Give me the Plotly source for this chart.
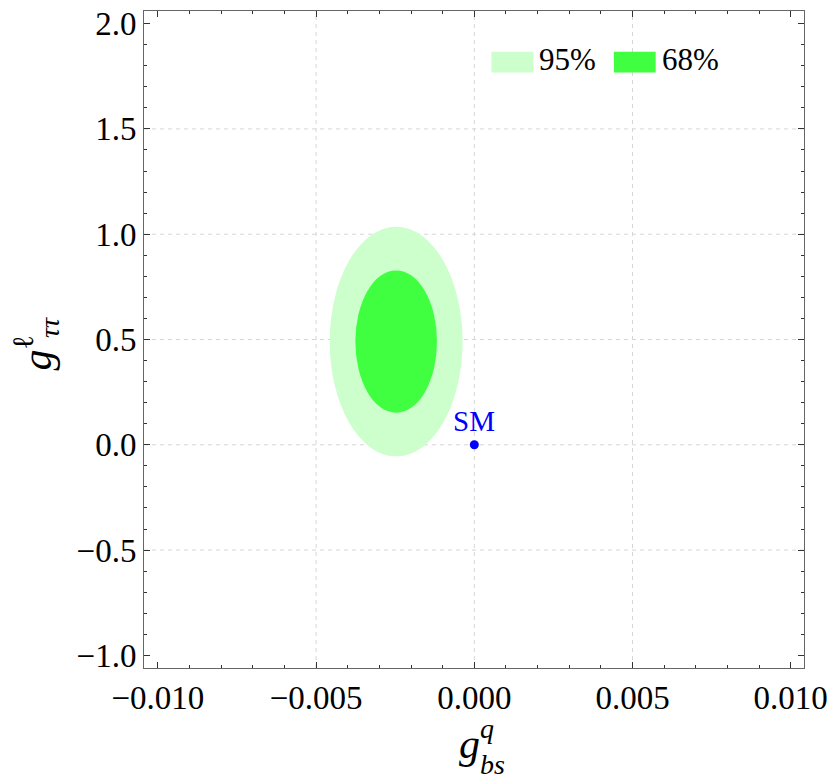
import plotly.graph_objects as go

# confidence regions (ellipses): center and semi-axes in data units
levels = ["95%", "68%"]
center_x = [-0.00247, -0.00247]
center_y = [0.49, 0.49]
half_x = [0.00210, 0.00129]
half_y = [0.545, 0.338]
colors = ["rgb(204,255,204)", "rgb(64,255,64)"]

sm_x = [0.0]
sm_y = [0.0]

x_ticks = [-0.010, -0.005, 0.0, 0.005, 0.010]
y_ticks = [-1.0, -0.5, 0.0, 0.5, 1.0, 1.5, 2.0]
x_grid = [-0.005, 0.0, 0.005]
y_grid = [-0.5, 0.0, 0.5, 1.0, 1.5]

L, R, T, B = 144, 27, 6, 115
W, H = 834, 783
pw, ph = W - L - R, H - T - B


def px(xp):
    return (xp - L) / pw


def py(yp):
    return (H - B - yp) / ph


serif = "Liberation Serif"
grid_line = dict(color="#d6d6d6", width=1, dash="4px,4px")

fig = go.Figure()

shapes = []
for i in range(len(levels)):
    shapes.append(dict(
        type="circle", xref="x", yref="y", layer="below",
        x0=center_x[i] - half_x[i], x1=center_x[i] + half_x[i],
        y0=center_y[i] - half_y[i], y1=center_y[i] + half_y[i],
        fillcolor=colors[i], line=dict(width=0),
    ))

# dashed grid only on the inner ticks, drawn above the regions
for gx in x_grid:
    shapes.append(dict(type="line", xref="x", yref="paper", layer="below",
                       x0=gx, x1=gx, y0=0, y1=1, line=grid_line))
for gy in y_grid:
    shapes.append(dict(type="line", xref="paper", yref="y", layer="below",
                       x0=0, x1=1, y0=gy, y1=gy, line=grid_line))

# legend boxes (drawn by hand to get the wide filled swatches)
legend_left = [493, 616]
for i in range(len(levels)):
    shapes.append(dict(type="rect", xref="paper", yref="paper",
                       x0=px(legend_left[i]), x1=px(legend_left[i] + 42),
                       y0=py(68), y1=py(47),
                       fillcolor=colors[i], line=dict(width=0)))

fig.add_trace(go.Scatter(
    x=sm_x, y=sm_y, mode="markers",
    marker=dict(color="blue", size=9), showlegend=False,
))

axis_common = dict(
    showline=True, linecolor="#666", linewidth=1, mirror="ticks",
    ticks="inside", ticklen=6, tickcolor="#333", tickwidth=1,
    showgrid=False, zeroline=False,
    tickfont=dict(family=serif, size=33, color="black"),
)

fig.update_xaxes(
    range=[-0.01044, 0.01042], tickvals=x_ticks, tickformat=".3f",
    minor=dict(dtick=0.001, tick0=0, ticks="inside", ticklen=3, tickcolor="#333", showgrid=False),
    **axis_common,
)
fig.update_yaxes(
    range=[-1.06, 2.06], tickvals=y_ticks, tickformat=".1f",
    minor=dict(dtick=0.1, tick0=0, ticks="inside", ticklen=3, tickcolor="#333", showgrid=False),
    **axis_common,
)

ann = []
ann.append(dict(text="SM", x=sm_x[0], y=sm_y[0], xref="x", yref="y",
                yanchor="bottom", yshift=6, font=dict(size=29, color="blue")))
for i in range(len(levels)):
    ann.append(dict(text=levels[i], x=px(legend_left[i] + 46), y=py(55),
                    xanchor="left", font=dict(size=31)))
# x axis title: g^q_bs (scripts stacked as two lines)
ann.append(dict(text="<i>g</i>", x=px(471), y=py(745), font=dict(size=42)))
ann.append(dict(text="<i>q</i><br><i>bs</i>", x=px(480), y=py(747),
                xanchor="left", align="left", font=dict(size=28)))
# y axis title: g^l_tautau (rotated), superscript kept inside the same text
ann.append(dict(text="<i>g</i><sup>ℓ</sup>", x=px(62), y=py(370),
                xanchor="right", yanchor="bottom", font=dict(size=42), textangle=-90))
ann.append(dict(text="<i>ττ</i>", x=px(49), y=py(325), font=dict(size=28), textangle=-90))
for a in ann:
    a.setdefault("xref", "paper")
    a.setdefault("yref", "paper")
    a.setdefault("xanchor", "center")
    a.setdefault("yanchor", "middle")
    a["showarrow"] = False
    a["font"].setdefault("color", "black")
    a["font"]["family"] = serif

fig.update_layout(
    width=W, height=H,
    margin=dict(l=L, r=R, t=T, b=B),
    plot_bgcolor="white", paper_bgcolor="white",
    shapes=shapes, annotations=ann, showlegend=False,
)

fig.write_html("out.html", config={"displayModeBar": False},
               post_script="document.body.style.margin='0';")
